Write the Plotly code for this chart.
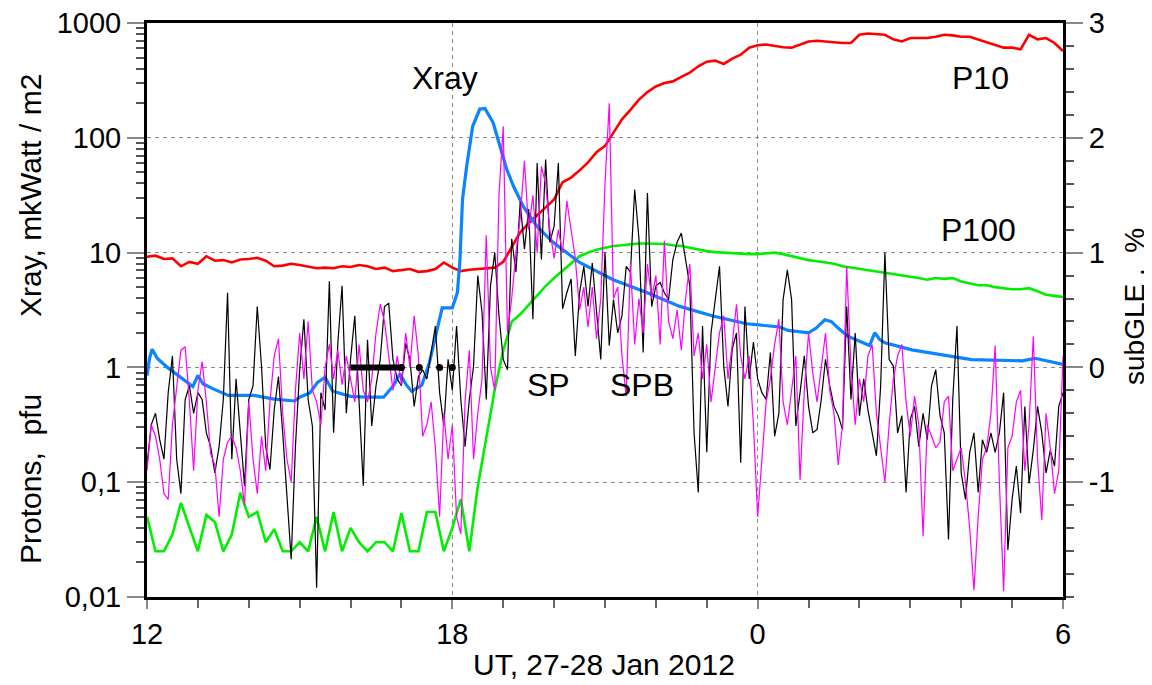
import plotly.graph_objects as go

# ---------------- data ----------------
# 5-minute sampled subGLE series (%), 12:00 (27 Jan) .. 06:00 (28 Jan)
subgle_black = [
    -0.85, -0.5, -0.4, -0.63, -0.8, -0.22, 0.1, -0.8, -1.1, -0.28, -0.16, -0.4,
    -0.22, -0.28, -0.57, -0.69, -0.92, -0.69, -0.28, 0.65, -0.8, -0.1, -0.57, -1.03,
    -0.28, -0.16, 0.53, 0.01, -0.69, -0.89, -0.37, -0.08, -0.57, -1.1, -1.67, -0.69,
    -0.02, 0.42, -0.28, -0.51, -1.92, -0.22, -0.37, 0.75, -0.57, 0.21, 0.71, -0.4,
    0.07, 0.45, -0.28, -1.03, 0.24, -0.51, -0.16, 0.07, 0.53, 0.56, 0.07, -0.1,
    -0.16, 0.21, 0.07, -0.34, -0.08, -0.02, -0.1, 0.13, 0.36, -0.22, -0.51, 0.07,
    -0.2, 0.36, -0.28, -0.69, -0.28, 0.01, 0.8, 0.48, -0.28, 0.71, 1.0, 0.45,
    0.07, -0.02, 1.12, 0.83, 1.44, 1.03, 1.38, 0.42, 1.78, 0.94, 1.81, 1.09,
    1.23, 1.78, 0.51, 0.65, 0.77, 0.1, 0.65, 0.88, 0.53, 0.91, 0.48, 0.07,
    1.0, 0.19, 0.59, 0.3, 0.45, 0.88, 0.83, 1.55, 1.12, 0.13, 1.52, 0.53,
    0.71, 0.74, 0.65, 0.59, 0.94, 1.09, 1.17, 0.94, 0.71, -0.57, -1.09, 0.36,
    -0.74, 0.3, 0.59, 0.88, 0.01, -0.34, 0.16, 0.3, -0.83, 0.53, -0.1, 0.22,
    -0.1, -0.22, -0.28, 0.13, -0.6, -0.4, 0.59, 0.85, 0.59, -0.51, -0.22, 0.1,
    -0.34, -0.57, -0.54, -0.28, 0.07, -0.16, -0.34, -0.42, -0.54, 0.53, -0.28, 0.3,
    -0.42, -0.1, -0.37, -0.57, -0.77, -0.16, 1.0, 0.07, 0.01, -0.57, -0.42, -1.09,
    -0.45, -0.34, -0.69, -0.4, -0.63, -0.16, -0.02, -0.42, -0.57, -1.5, -0.28, 0.36,
    -0.92, -1.15, -0.74, -0.57, -1.09, -0.63, -0.74, -0.57, -0.74, -0.57, -0.22, -1.59,
    -1.15, -0.86, -1.27, -0.34, -1.01, -0.72, -0.34, -0.57, -0.92, -0.72, -0.86, -0.34,
    -0.22,
]
subgle_magenta = [
    -0.9, -0.5, -0.6, -0.8, -1.1, -1.15, -0.5, -0.2, 0.15, 0.18, -0.3, -0.9,
    -0.2, 0.05, -0.3, -0.75, -0.85, -1.3, -0.8, -0.65, -0.6, -0.7, -0.9, -1.2,
    -0.3, -0.8, -1.1, -0.6, -0.9, -0.3, 0.1, 0.25, -0.4, -0.8, -1.0, -0.2,
    0.3, -0.1, 0.4, -0.2, -0.3, -0.5, 0.0, 0.2, -0.1, 0.15, -0.15, 0.1,
    -0.1, -0.3, 0.2, -0.2, -0.3, -0.1, 0.3, 0.55, 0.4, 0.1, -0.2, 0.1,
    -0.15, 0.3, 0.0, 0.45, 0.1, -0.6, -0.5, -0.3, -0.7, -1.3, -0.4, -0.8,
    -0.5, -1.3, -1.45, -0.3, 0.15, -0.8, -0.4, -0.1, 1.15, 0.0, -0.2, 1.5,
    2.1, 0.3, 0.6, 1.0, 1.3, 1.8, 1.2, 1.5, 1.0, 1.75, 1.6, 1.2,
    0.95, 1.2, 1.0, 1.45, 1.2, 0.95, 0.5, 0.7, 0.35, 0.7, 0.25, 0.6,
    1.6, 2.3, 0.6, 0.7, 0.1, -0.25, 0.9, 0.2, 0.6, 0.3, 0.9, 0.6,
    0.8, 0.2, 1.1, 0.4, 0.25, 0.5, 0.15, 0.6, 0.9, 0.1, 0.3, -0.1,
    0.2, -0.3, 0.0, 0.3, 0.45, -0.1, 0.2, 0.55, 0.1, -0.1, 0.1, -0.5,
    -1.3, -0.8, -0.3, -0.1, 0.2, 0.42, -0.3, -0.5, -0.2, 0.1, -0.98, -0.2,
    0.3, -0.05, -0.3, 0.0, 0.3, -0.2, -0.4, -0.85, -0.5, 0.88, 0.0, -0.5,
    -0.1, -0.3, 0.1, 0.2, -0.4, -0.7, -1.0, -0.5, -0.1, 0.1, 0.2, -0.3,
    -0.6, -0.25, -0.5, -1.47, -0.5, -0.6, -0.7, -0.65, -0.3, -0.25, -0.9, -0.8,
    -0.7, -1.0, -1.4, -1.94, -1.3, -0.8, -0.7, -0.4, 0.19, -1.0, -1.95, -0.7,
    -0.6, -0.3, -0.2, -0.9, -0.5, 0.27, -0.8, -1.33, -0.4, -0.7, -1.1, -0.9,
    0.1,
]

# 10-minute sampled proton fluxes (pfu)
p10 = [
    9.2, 9.4, 8.8, 8.9, 7.6, 8.3,
    8.0, 9.3, 8.5, 8.6, 8.2, 8.7,
    8.8, 9.0, 8.5, 7.6, 7.7, 8.0,
    7.8, 7.5, 7.3, 7.4, 7.3, 7.6,
    7.5, 7.8, 7.6, 7.2, 7.4, 6.9,
    7.0, 7.2, 6.8, 6.9, 7.2, 8.2,
    7.4, 6.9, 7.1, 7.2, 7.3, 7.4,
    8.3, 11.3, 15, 18, 21, 25,
    29, 41, 45, 52, 61, 75,
    85, 111, 145, 175, 215, 250,
    280, 300, 310, 340, 370, 420,
    460, 470, 440, 490, 530, 610,
    640, 650, 630, 615, 610, 650,
    690, 700, 690, 670, 670, 670,
    790, 810, 800, 790, 720, 690,
    740, 740, 740, 760, 790, 780,
    760, 760, 720, 690, 650, 610,
    610, 590, 790, 720, 740, 670,
    570,
]
p100 = [
    0.05, 0.025, 0.025, 0.035, 0.066, 0.04,
    0.025, 0.052, 0.045, 0.025, 0.035, 0.081,
    0.05, 0.055, 0.03, 0.039, 0.025, 0.025,
    0.03, 0.025, 0.05, 0.025, 0.055, 0.025,
    0.04, 0.03, 0.025, 0.03, 0.03, 0.025,
    0.054, 0.025, 0.025, 0.055, 0.055, 0.025,
    0.04, 0.071, 0.025, 0.092, 0.24, 0.64,
    1.4, 2.5, 2.9, 3.5, 4.2, 5.1,
    6.0, 6.9, 8.0, 9.3, 10.0, 10.6,
    11.0, 11.4, 11.6, 11.8, 12.0, 12.0,
    12.0, 11.9, 11.6, 11.4, 11.0, 10.6,
    10.3, 10.1, 10.0, 9.8, 9.8, 9.7,
    9.7, 9.8, 10.0, 9.7, 9.3, 9.0,
    8.6, 8.4, 8.2, 8.0, 7.6, 7.4,
    7.3, 7.1, 6.9, 6.7, 6.5, 6.3,
    6.2, 6.0, 5.8, 6.0, 5.9, 6.0,
    5.6, 5.4, 5.2, 5.2, 5.0, 4.9,
    4.8, 4.8, 4.9, 4.6, 4.3, 4.2,
    4.1,
]

# X-ray flux (mkW/m2), read at irregular times (hours since 00 UT 27 Jan)
xray_t = [12.0, 12.05, 12.1, 12.2, 12.4, 12.65, 12.9, 13.0, 13.1, 13.3, 13.6, 14.1,
          14.5, 14.9, 15.0, 15.2, 15.35, 15.5, 15.65, 16.0, 16.3, 16.65, 16.85, 16.97,
          17.1, 17.2, 17.4, 17.55, 17.62, 17.7, 17.8, 18.0, 18.1, 18.15, 18.2, 18.28,
          18.4, 18.54, 18.64, 18.8, 18.93, 19.07, 19.2, 19.4, 19.66, 19.98, 20.5, 21.16,
          21.82, 22.47, 23.12, 23.78, 24.43, 24.6, 25.0, 25.15, 25.32, 25.45, 25.58, 25.77,
          26.2, 26.3, 26.4, 26.5, 27.03, 27.54, 28.2, 29.2, 29.45, 30.0]
xray_v = [0.85, 1.2, 1.44, 1.2, 1.0, 0.83, 0.68, 0.85, 0.72, 0.65, 0.57, 0.57,
          0.53, 0.51, 0.55, 0.6, 0.74, 0.82, 0.62, 0.56, 0.55, 0.55, 0.7, 0.88,
          0.7, 0.62, 0.7, 1.1, 1.5, 2.0, 3.3, 3.3, 4.5, 8.7, 29, 56,
          126, 178, 180, 136, 85, 53, 38, 25, 17, 12.3, 8.2, 5.8,
          4.5, 3.4, 2.8, 2.4, 2.25, 2.1, 2.0, 2.2, 2.6, 2.5, 2.2, 1.87,
          1.55, 2.0, 1.75, 1.64, 1.42, 1.3, 1.17, 1.14, 1.2, 1.06]

# onset marker (bar + dots) on subGLE axis
bar_t = [16.0, 17.0]
bar_v = [0.0, 0.0]
dot_t = [17.0, 17.35, 17.75, 18.0]
dot_v = [0.0, 0.0, 0.0, 0.0]

x_tickvals = [12, 18, 24, 30]
x_ticktext = ["12", "18", "0", "6"]
y_tickvals = [0.01, 0.1, 1, 10, 100, 1000]
y_ticktext = ["0,01", "0,1", "1", "10", "100", "1000"]
y2_tickvals = [-1, 0, 1, 2, 3]
y2_ticktext = ["-1", "0", "1", "2", "3"]

t5 = [12 + k / 12 for k in range(len(subgle_black))]
t10 = [12 + k / 6 for k in range(len(p10))]
minor_log = [m * 10 ** e for e in range(-2, 3) for m in range(2, 10)]

FONT = "Liberation Sans, Arial, sans-serif"
NB = "\u00a0"

# page has an 8px body margin; the figure is sized so the plot box lands where the reference has it
W, H = 1144, 677
L, T, PW, PH = 139, 15, 916, 574

fig = go.Figure()
fig.add_trace(go.Scatter(x=t5, y=subgle_black, yaxis="y2", mode="lines",
                         line=dict(color="black", width=1.2), name="subGLE 1"))
fig.add_trace(go.Scatter(x=t5, y=subgle_magenta, yaxis="y2", mode="lines",
                         line=dict(color="#ff00ff", width=1.2), name="subGLE 2"))
fig.add_trace(go.Scatter(x=t10, y=p100, mode="lines",
                         line=dict(color="#00ee00", width=2.6), name="P100"))
fig.add_trace(go.Scatter(x=t10, y=p10, mode="lines",
                         line=dict(color="#ff0000", width=2.6), name="P10"))
fig.add_trace(go.Scatter(x=xray_t, y=xray_v, mode="lines",
                         line=dict(color="#0a84ff", width=3.2), name="Xray"))
fig.add_trace(go.Scatter(x=bar_t, y=bar_v, yaxis="y2", mode="lines",
                         line=dict(color="black", width=6), name="onset"))
fig.add_trace(go.Scatter(x=dot_t, y=dot_v, yaxis="y2", mode="markers",
                         marker=dict(color="black", size=7), name="dots"))

grid = dict(showgrid=True, gridcolor="#8a8a8a", gridwidth=1, griddash="4px,4px")

fig.update_layout(
    width=W, height=H,
    margin=dict(l=L, r=W - L - PW, t=T, b=H - T - PH, autoexpand=False),
    paper_bgcolor="white", plot_bgcolor="white",
    showlegend=False,
    font=dict(family=FONT, size=29, color="black"),
    xaxis=dict(range=[12, 30], tickmode="array", tickvals=x_tickvals, ticktext=x_ticktext,
               ticks="outside", ticklen=9, tickwidth=1.5, tickcolor="#888",
               minor=dict(tickmode="linear", tick0=12, dtick=1, ticks="outside", ticklen=8,
                          tickwidth=1.5, tickcolor="#666", showgrid=False),
               showline=True, linecolor="black", linewidth=3, mirror=True,
               zeroline=False, automargin=False, ticklabeloverflow="allow", **grid),
    yaxis=dict(type="log", range=[-2, 3], tickmode="array", tickvals=y_tickvals,
               ticktext=y_ticktext, ticks="outside", ticklen=17, tickwidth=1.5, tickcolor="#888",
               minor=dict(tickmode="array", tickvals=minor_log, ticks="outside", ticklen=8,
                          tickwidth=1.5, tickcolor="#555", showgrid=False),
               showline=True, linecolor="black", linewidth=3, zeroline=False,
               automargin=False, ticklabeloverflow="allow", **grid),
    yaxis2=dict(overlaying="y", side="right", range=[-2, 3], tickmode="array",
                tickvals=y2_tickvals, ticktext=y2_ticktext,
                ticks="outside", ticklen=17, tickwidth=1.5, tickcolor="#888",
                minor=dict(tickmode="linear", tick0=-2, dtick=0.2, ticks="outside", ticklen=8,
                           tickwidth=1.5, tickcolor="#555", showgrid=False),
                showline=True, linecolor="black", linewidth=3, showgrid=False,
                zeroline=False, automargin=False, ticklabeloverflow="allow"),
)

# (text, page x, page y, angle, size) -- page coordinates of the reference screenshot
ann = [
    ("Xray, mkWatt / m2", 30, 196, -90, 30),
    ("Protons," + NB + NB + "pfu", 30, 479, -90, 30),
    ("subGLE" + NB + "," + NB + NB + "%", 1135, 307, -90, 28),
    ("UT, 27-28 Jan 2012", 604, 664, 0, 30),
    ("Xray", 445, 78, 0, 32),
    ("P10", 980, 78, 0, 32),
    ("P100", 978, 230, 0, 32),
    ("SP", 548, 385, 0, 32),
    ("SPB", 642, 385, 0, 32),
]
for text, px, py, ang, size in ann:
    fig.add_annotation(text=text, xref="paper", yref="paper",
                       x=(px - 8 - L) / PW, y=1 - (py - 8 - T) / PH,
                       xanchor="center", yanchor="middle", showarrow=False,
                       textangle=ang, font=dict(size=size, family=FONT))

fig.write_html("out.html")
